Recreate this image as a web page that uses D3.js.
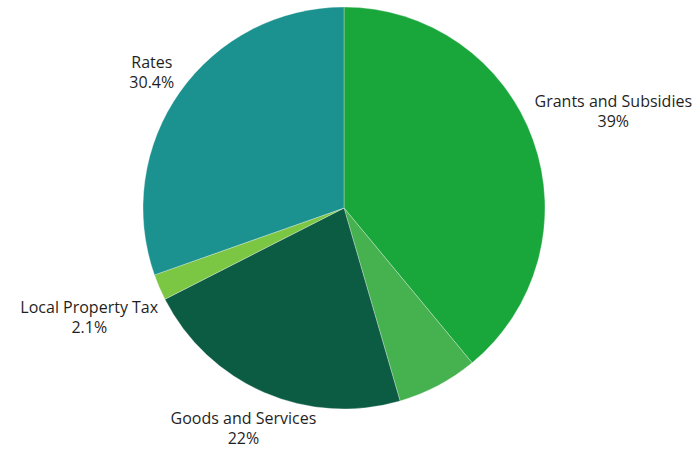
<!DOCTYPE html>
<html>
<head>
<meta charset="utf-8">
<script src="https://cdn.jsdelivr.net/npm/d3@7"></script>
<style>
  html, body { margin: 0; padding: 0; background: #ffffff; }
  svg { display: block; }
  text { font-family: "Open Sans", "Noto Sans", sans-serif; font-size: 16px; fill: #1f1f1f; }
</style>
</head>
<body>
<svg id="chart" width="700" height="450"></svg>
<script>
// Revenue sources, as shares of the total (%)
const categories = ["Grants and Subsidies", "Other", "Goods and Services", "Local Property Tax", "Rates"];
const values = [39, 6.5, 22, 2.1, 30.4];
const valueLabels = ["39%", "", "22%", "2.1%", "30.4%"];
const colors = ["#19a63a", "#45b14f", "#0b5c43", "#7bc643", "#1b928f"];

const width = 700, height = 450;
const cx = 344, cy = 208, radius = 201;
const labelGap = 4;
const lineStep = 20;

const data = categories.map((c, i) => ({ name: c, value: values[i], label: valueLabels[i], color: colors[i] }));

const svg = d3.select("#chart");
const g = svg.append("g").attr("transform", `translate(${cx},${cy})`);

const pie = d3.pie().value(d => d.value).sort(null);
const arc = d3.arc().innerRadius(0).outerRadius(radius);
const arcs = pie(data);

g.selectAll("path.slice")
  .data(arcs)
  .join("path")
  .attr("class", "slice")
  .attr("d", arc)
  .attr("fill", d => d.data.color)
  .attr("stroke", "rgba(255,255,255,0.5)")
  .attr("stroke-width", 0.6);

// Two-line labels placed just outside the rim along each slice's mid-angle
const labelled = arcs.filter(d => d.data.label !== "");
const labels = g.selectAll("g.label")
  .data(labelled)
  .join("g")
  .attr("class", "label");

labels.append("text")
  .attr("text-anchor", "middle")
  .attr("y", 0)
  .text(d => d.data.name);
labels.append("text")
  .attr("text-anchor", "middle")
  .attr("y", lineStep)
  .text(d => d.data.label);

labels.each(function(d) {
  const box = this.getBBox();
  const a = (d.startAngle + d.endAngle) / 2;
  const ux = Math.sin(a), uy = -Math.cos(a);
  const half = Math.abs(ux) * box.width / 2 + Math.abs(uy) * box.height / 2;
  const dist = radius + labelGap + half;
  let tx = ux * dist - (box.x + box.width / 2);
  let ty = uy * dist - (box.y + box.height / 2);
  // keep each label inside the drawing area
  const minX = -cx + 2, maxX = width - cx - 2, minY = -cy + 2, maxY = height - cy - 1;
  tx = Math.max(minX - box.x, Math.min(maxX - (box.x + box.width), tx));
  ty = Math.max(minY - box.y, Math.min(maxY - (box.y + box.height), ty));
  d3.select(this).attr("transform", `translate(${tx},${ty})`);
});
</script>
</body>
</html>
